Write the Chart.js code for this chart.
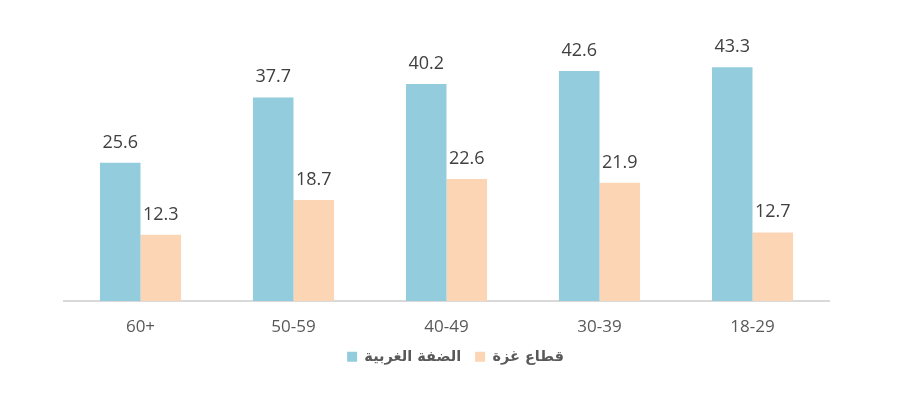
<!DOCTYPE html>
<html>
<head>
<meta charset="utf-8">
<script src="https://cdn.jsdelivr.net/npm/chart.js@4"></script>
<style>
  html, body { margin: 0; padding: 0; background: #ffffff; }
  #wrap { width: 924px; height: 394px; position: relative; }
</style>
</head>
<body>
<div id="wrap"><canvas id="c" width="924" height="394"></canvas></div>
<script>
const categories = ['60+', '50-59', '40-49', '30-39', '18-29'];
const westBankLabel = 'الضفة الغربية';
const gazaLabel = 'قطاع غزة';
const westBank = [25.6, 37.7, 40.2, 42.6, 43.3];
const gaza = [12.3, 18.7, 22.6, 21.9, 12.7];

const valueLabels = {
  id: 'valueLabels',
  afterDatasetsDraw(chart) {
    const ctx = chart.ctx;
    ctx.save();
    ctx.font = '18px "Open Sans", "Noto Sans", sans-serif';
    ctx.fillStyle = '#404040';
    ctx.textAlign = 'center';
    ctx.textBaseline = 'alphabetic';
    chart.data.datasets.forEach((ds, di) => {
      const meta = chart.getDatasetMeta(di);
      meta.data.forEach((bar, i) => {
        ctx.fillText(ds.data[i].toFixed(1), bar.x, bar.y - 15);
      });
    });
    ctx.restore();
  }
};

const legendShift = {
  id: 'legendShift',
  afterLayout(chart) {
    const lg = chart.legend;
    if (lg) {
      lg.left += 9; lg.right += 9;
      lg.top -= 18; lg.bottom -= 18;
    }
  }
};

new Chart(document.getElementById('c'), {
  type: 'bar',
  data: {
    labels: categories,
    datasets: [
      { label: westBankLabel, data: westBank, backgroundColor: '#93CDDD', borderWidth: 0 },
      { label: gazaLabel, data: gaza, backgroundColor: '#FCD5B5', borderWidth: 0 }
    ]
  },
  options: {
    responsive: false,
    animation: false,
    devicePixelRatio: 1,
    layout: { padding: { left: 64, right: 95, top: 31, bottom: 2 } },
    datasets: { bar: { categoryPercentage: 0.53, barPercentage: 1.0 } },
    scales: {
      x: {
        grid: { display: false, drawTicks: false },
        border: { display: true, color: '#D9D9D9', width: 2 },
        ticks: { color: '#595959', font: { family: '"Open Sans", "Noto Sans", sans-serif', size: 17 }, padding: 16 }
      },
      y: {
        display: false,
        min: 0,
        max: 50
      }
    },
    plugins: {
      legend: {
        position: 'bottom',
        labels: {
          boxWidth: 10,
          boxHeight: 10,
          padding: 14,
          color: '#595959',
          font: { family: '"DejaVu Sans", sans-serif', size: 14.5, weight: 'bold' }
        }
      },
      tooltip: { enabled: false }
    }
  },
  plugins: [valueLabels, legendShift]
});
</script>
</body>
</html>
